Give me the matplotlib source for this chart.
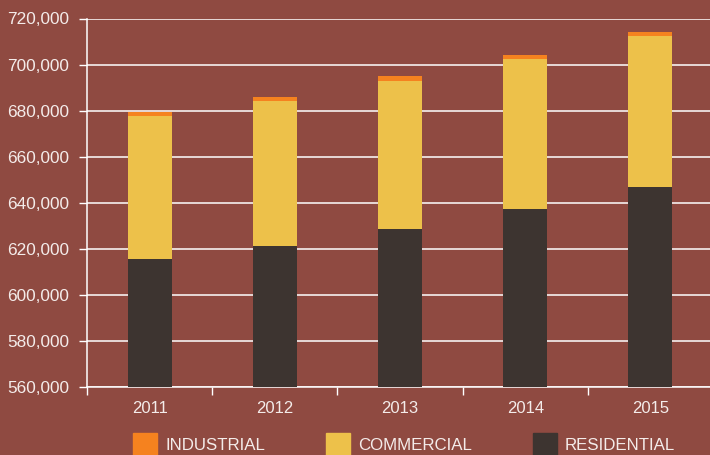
import matplotlib
matplotlib.use("Agg")
import matplotlib.pyplot as plt
import matplotlib.patches as mpatches
from matplotlib.ticker import FuncFormatter, MultipleLocator
import numpy as np

# -----------------------------
# DATA
# -----------------------------
anos = ["2011", "2012", "2013", "2014", "2015"]
residencial = [615500, 621200, 628500, 637200, 646700]
comercial = [62000, 62800, 64200, 65400, 65500]
industrial = [1700, 1750, 2150, 1750, 2150]

series = ["INDUSTRIAL", "COMMERCIAL", "RESIDENTIAL"]

fundo = "#8f4a41"
cor_res = "#3d3430"
cor_com = "#edc14a"
cor_ind = "#f5821f"
cor_txt = "#f4ecea"

plt.rcParams["font.family"] = ["Liberation Sans", "DejaVu Sans"]

fig = plt.figure(figsize=(7.1, 4.55), dpi=100, facecolor=fundo)
ax = fig.add_axes([87 / 710, 1 - 387 / 455, 626 / 710, (387 - 18.5) / 455])
ax.set_facecolor(fundo)

x = np.arange(len(anos))
base = 560000
res = np.array(residencial)
com = np.array(comercial)
ind = np.array(industrial)

ax.bar(x, res - base, bottom=base, width=0.35, color=cor_res, zorder=3)
ax.bar(x, com, bottom=res, width=0.35, color=cor_com, zorder=3)
ax.bar(x, ind, bottom=res + com, width=0.35, color=cor_ind, zorder=3)

ax.set_ylim(560000, 720000)
ax.set_xlim(-0.5, 4.5)
ax.yaxis.set_major_locator(MultipleLocator(20000))
ax.yaxis.set_major_formatter(FuncFormatter(lambda v, p: f"{int(v):,}"))
ax.grid(axis="y", color="white", linewidth=1.1, zorder=1)

# ticks between categories on x
ax.set_xticks(x)
ax.set_xticklabels(anos)
ax.set_xticks(np.arange(-0.5, 5, 1), minor=True)
ax.tick_params(axis="x", which="major", length=0, pad=10, labelsize=12, labelcolor=cor_txt)
ax.tick_params(axis="x", which="minor", length=6, width=1, color="white")
ax.tick_params(axis="y", length=6, width=1, color="white", pad=7, labelsize=12.4, labelcolor=cor_txt)

for lado in ["top", "right"]:
    ax.spines[lado].set_visible(False)
for lado in ["left", "bottom"]:
    ax.spines[lado].set_color("white")
    ax.spines[lado].set_linewidth(1.1)

# -----------------------------
# LEGENDA
# -----------------------------
cores = [cor_ind, cor_com, cor_res]
handles = [mpatches.Patch(color=c, label=s) for s, c in zip(series, cores)]
fig.legend(
    handles=handles,
    loc="upper left",
    bbox_to_anchor=(133 / 710, 1 - 433 / 455),
    ncol=3,
    frameon=False,
    fontsize=12.2,
    labelcolor=cor_txt,
    handlelength=1.42,
    handleheight=1.7,
    handletextpad=0.47,
    columnspacing=3.6,
    borderpad=0,
    borderaxespad=0,
)

plt.savefig("out.png", dpi=100, facecolor=fundo)
